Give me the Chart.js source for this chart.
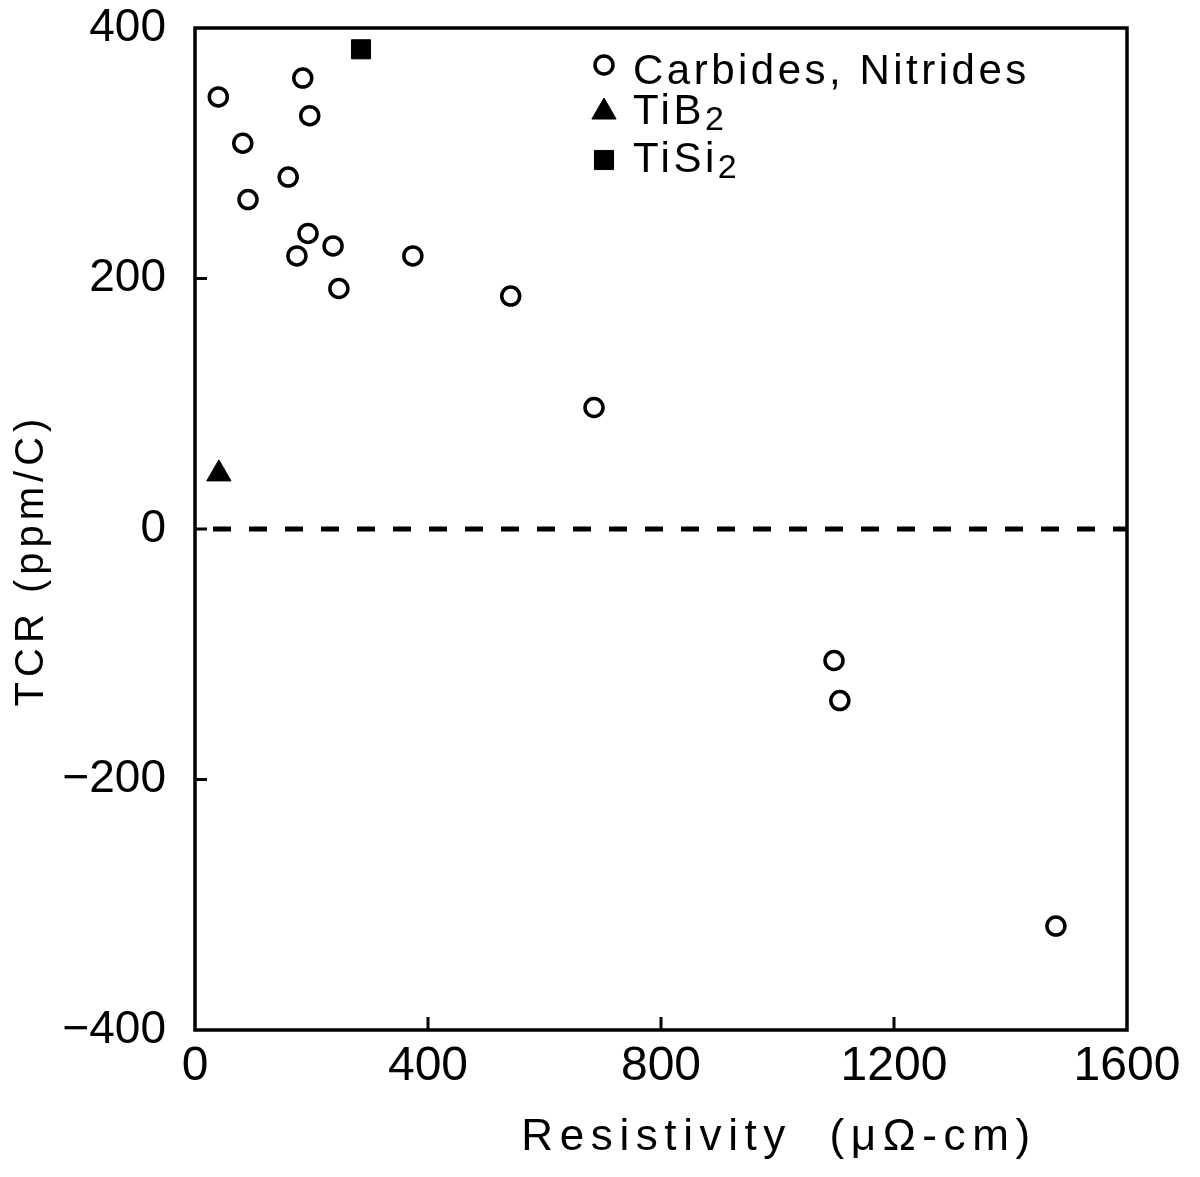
<!DOCTYPE html>
<html>
<head>
<meta charset="utf-8">
<script src="https://cdn.jsdelivr.net/npm/chart.js@4.4.0/dist/chart.umd.min.js"></script>
<style>
html, body { margin: 0; padding: 0; background: #fff; }
#wrap { width: 1200px; height: 1177px; }
</style>
</head>
<body>
<div id="wrap"><canvas id="chart" width="1200" height="1177"></canvas></div>
<script>
// values (resistivity in uOhm-cm, TCR in ppm/C)
var carbide_x = [40, 82, 91, 160, 185, 197, 194, 175, 237, 247, 374, 542, 685, 1097, 1107, 1478];
var carbide_y = [345, 308, 263, 281, 360, 330, 236, 218, 226, 192, 218, 186, 97, -105, -137, -317];
var tib2_x = [41];
var tib2_y = [44];
var tisi2_x = [285];
var tisi2_y = [383];
var zero_x = [0, 1600];
var zero_y = [0, 0];

var x_ticks = [0, 400, 800, 1200, 1600];
var y_ticks = [-400, -200, 0, 200, 400];
var series_names = ["Carbides, Nitrides", "TiB\u2082", "TiSi\u2082"];
var x_title = "Resistivity  (\u03bc\u03a9-cm)";
var y_title = "TCR (ppm/C)";

var FONT = "'Liberation Sans', Arial, sans-serif";
Chart.defaults.font.family = FONT;
Chart.defaults.color = "#000";

function points(xs, ys) {
	return xs.map(function (x, i) { return { x: x, y: ys[i] }; });
}

// draws "TiB₂" style labels with a big, dropped subscript like the original lettering
function drawLabel(ctx, text, x, y) {
	var parts = text.split("\u2082");
	ctx.font = "42px " + FONT;
	ctx.letterSpacing = "3.5px";
	ctx.fillText(parts[0], x, y);
	if (parts.length > 1) {
		var w = ctx.measureText(parts[0]).width;
		ctx.font = "34px " + FONT;
		ctx.fillText("2", x + w, y + 9);
	}
}

// box, inward tick marks, in-plot legend and the two axis titles
var paperPlugin = {
	id: "paper",
	afterDraw: function (chart) {
		var ctx = chart.ctx;
		var area = chart.chartArea;
		var xs = chart.scales.x;
		var ys = chart.scales.y;
		ctx.save();
		ctx.strokeStyle = "#000";
		ctx.lineWidth = 3.5;
		ctx.strokeRect(area.left, area.top, area.right - area.left, area.bottom - area.top);

		ctx.lineWidth = 3;
		x_ticks.slice(1, -1).forEach(function (v) {
			var px = xs.getPixelForValue(v);
			ctx.beginPath();
			ctx.moveTo(px, area.bottom);
			ctx.lineTo(px, area.bottom - 13);
			ctx.stroke();
		});
		y_ticks.slice(1, -1).forEach(function (v) {
			var py = ys.getPixelForValue(v);
			ctx.beginPath();
			ctx.moveTo(area.left, py);
			ctx.lineTo(area.left + 12, py);
			ctx.stroke();
		});

		// legend
		var rows = [{ my: 65, ty: 72 }, { my: 112, ty: 112 }, { my: 160, ty: 160 }];
		chart.data.datasets.slice(0, 3).forEach(function (ds, i) {
			ctx.fillStyle = ds.backgroundColor;
			ctx.strokeStyle = ds.borderColor;
			ctx.lineWidth = ds.borderWidth;
			Chart.helpers.drawPoint(ctx, {
				pointStyle: ds.pointStyle,
				radius: ds.pointRadius,
				rotation: 0,
				borderWidth: ds.borderWidth
			}, 604, rows[i].my);
			ctx.fillStyle = "#000";
			ctx.textAlign = "left";
			ctx.textBaseline = "middle";
			drawLabel(ctx, ds.label, 633, rows[i].ty);
		});

		// axis titles
		ctx.fillStyle = "#000";
		ctx.font = "44px " + FONT;
		ctx.letterSpacing = "6.6px";
		ctx.textAlign = "center";
		ctx.textBaseline = "alphabetic";
		ctx.fillText(x_title, 779, 1150);

		ctx.translate(43, 560);
		ctx.rotate(-Math.PI / 2);
		ctx.font = "40px " + FONT;
		ctx.letterSpacing = "5px";
		ctx.fillText(y_title, 0, 0);
		ctx.restore();
	}
};

var chart = new Chart(document.getElementById("chart").getContext("2d"), {
	type: "scatter",
	data: {
		datasets: [
			{
				label: series_names[0],
				data: points(carbide_x, carbide_y),
				pointStyle: "circle",
				pointRadius: 9,
				borderWidth: 3.5,
				borderColor: "#000",
				backgroundColor: "rgba(255,255,255,0)"
			},
			{
				label: series_names[1],
				data: points(tib2_x, tib2_y),
				pointStyle: "triangle",
				pointRadius: 14,
				borderWidth: 1,
				borderColor: "#000",
				backgroundColor: "#000"
			},
			{
				label: series_names[2],
				data: points(tisi2_x, tisi2_y),
				pointStyle: "rect",
				pointRadius: 13.5,
				borderWidth: 1,
				borderColor: "#000",
				backgroundColor: "#000"
			},
			{
				label: "zero",
				data: points(zero_x, zero_y),
				showLine: true,
				pointRadius: 0,
				borderColor: "#000",
				borderWidth: 5,
				borderDash: [18, 18],
				borderDashOffset: 18
			}
		]
	},
	options: {
		responsive: false,
		animation: false,
		events: [],
		layout: { padding: { left: 0, right: 73, top: 28, bottom: 0 } },
		plugins: {
			legend: { display: false },
			tooltip: { enabled: false }
		},
		scales: {
			x: {
				type: "linear",
				min: 0,
				max: 1600,
				afterBuildTicks: function (scale) {
					scale.ticks = x_ticks.map(function (v) { return { value: v }; });
				},
				afterFit: function (scale) {
					scale.height = 147;
					scale.paddingLeft = 0;
					scale.paddingRight = 0;
				},
				grid: { display: false, drawTicks: false },
				border: { display: false },
				ticks: {
					font: { size: 48 },
					padding: 8,
					maxRotation: 0,
					color: "#000",
					callback: function (v) { return String(v); }
				},
				title: { display: false, text: x_title }
			},
			y: {
				type: "linear",
				min: -400,
				max: 400,
				afterBuildTicks: function (scale) {
					scale.ticks = y_ticks.map(function (v) { return { value: v }; });
				},
				afterFit: function (scale) {
					scale.width = 195;
					scale.paddingTop = 0;
					scale.paddingBottom = 0;
				},
				grid: { display: false, drawTicks: false },
				border: { display: false },
				ticks: {
					font: { size: 46, lineHeight: 1.2 },
					padding: 29,
					color: "#000",
					callback: function (v) { return v < 0 ? "\u2212" + Math.abs(v) : String(v); }
				},
				title: { display: false, text: y_title }
			}
		}
	},
	plugins: [paperPlugin]
});
</script>
</body>
</html>
